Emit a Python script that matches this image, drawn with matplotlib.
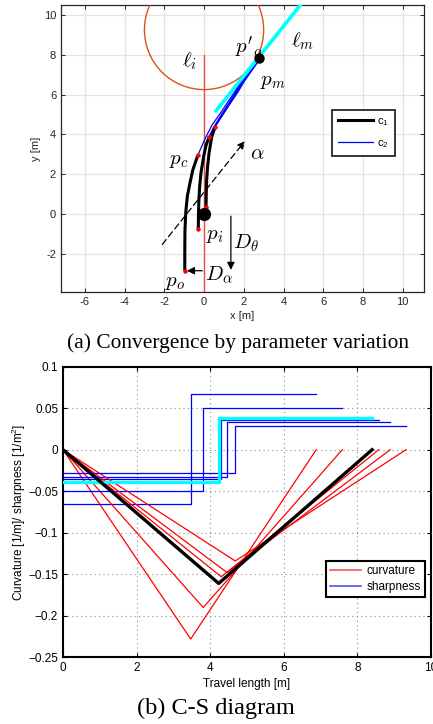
import numpy as np
import matplotlib.pyplot as plt
from matplotlib.patches import Circle, FancyArrowPatch

plt.rcParams['font.family'] = ['Liberation Sans', 'DejaVu Sans']
plt.rcParams['mathtext.fontset'] = 'cm'

# ---- (a) path geometry, metres ----
circle_center = (0.0, 9.25)
circle_radius = 3.0
line_i_x = [0.0, 0.0]
line_i_y = [-4.0, 8.0]
line_m_x = [0.6, 4.85]
line_m_y = [5.18, 10.5]
p_o_prime = (2.75, 7.82)
p_i = (0.0, 0.0)

# c1 segments (black)
c1_paths = [
    ([-0.97, -0.97, -0.96, -0.92, -0.84, -0.72, -0.57, -0.31],
     [-2.85, -1.8, -0.8, 0.1, 0.9, 1.5, 2.2, 2.96]),
    ([-0.29, -0.28, -0.26, -0.22, -0.15, -0.02, 0.1, 0.26],
     [-0.77, 0.0, 0.7, 1.4, 2.1, 2.9, 3.45, 3.88]),
    ([0.1, 0.11, 0.13, 0.18, 0.25, 0.38, 0.56],
     [0.37, 1.0, 1.7, 2.4, 3.05, 3.85, 4.39]),
]

# c2 segments (blue)
c2_paths = [
    ([-0.31, 0.06, 0.4, 0.82, 1.15, 1.49, 2.0, 2.75],
     [2.96, 3.8, 4.47, 5.06, 5.56, 6.06, 6.86, 7.78]),
    ([0.12, 0.45, 0.85, 1.2, 1.5, 2.0, 2.75],
     [3.6, 4.3, 4.95, 5.5, 5.98, 6.82, 7.76]),
    ([0.26, 0.55, 0.9, 1.25, 1.55, 2.0, 2.75],
     [3.88, 4.42, 4.97, 5.5, 5.97, 6.78, 7.74]),
    ([0.42, 0.7, 1.0, 1.3, 1.6, 2.0, 2.75],
     [4.15, 4.62, 5.08, 5.55, 6.02, 6.72, 7.72]),
    ([0.56, 0.85, 1.15, 1.45, 1.7, 2.05, 2.75],
     [4.39, 4.85, 5.3, 5.75, 6.12, 6.7, 7.7]),
]

end_dots_x = [-0.31, -0.97, 0.26, -0.29, 0.56, 0.1]
end_dots_y = [2.96, -2.85, 3.88, -0.77, 4.39, 0.37]

# ---- (b) curvature / sharpness profiles ----
s_peak = [3.47, 3.81, 4.23, 4.30, 4.46, 4.68]
k_peak = [-0.228, -0.190, -0.161, -0.153, -0.148, -0.134]
s_end = [6.88, 7.59, 8.40, 8.58, 8.89, 9.32]
sharp_in = [-0.0659, -0.0502, -0.0386, -0.0357, -0.0333, -0.0285]
sharp_out = [0.0667, 0.0502, 0.0382, 0.0357, 0.0333, 0.0289]
best = 2

W, H = 433, 724
fig = plt.figure(figsize=(W / 100, H / 100), dpi=100)

# ── (a) Path plot ─────────────────────────────────────────
ax1 = fig.add_axes([61 / W, 1 - 292 / H, 363 / W, 287 / H])
ax1.set_xlim(-7.2, 11.07)
ax1.set_ylim(-3.92, 10.5)

ax1.add_patch(Circle(circle_center, circle_radius, fill=False,
                     ec='#D95319', lw=1.0, zorder=3))
ax1.plot(line_i_x, line_i_y, color='#F04848', lw=1.0, zorder=3)

for xs, ys in c2_paths:
    ax1.plot(xs, ys, color='#0000FF', lw=0.9, zorder=4)
for xs, ys in c1_paths:
    ax1.plot(xs, ys, color='black', lw=2.2, zorder=5,
             solid_capstyle='butt')
ax1.plot(line_m_x, line_m_y, color='#00FFFF', lw=2.6, zorder=6)
ax1.plot(end_dots_x, end_dots_y, 'o', color='red', ms=2.2, zorder=7)
ax1.plot(*p_o_prime, 'o', color='black', ms=6.5, zorder=8)
ax1.plot(*p_i, 'o', color='black', ms=8.5, zorder=8)

# legend handles
ax1.plot([], [], color='black', lw=2.2, label=r'$\mathregular{c_1}$')
ax1.plot([], [], color='#0000FF', lw=0.9, label=r'$\mathregular{c_2}$')
leg1 = ax1.legend(loc='upper left', bbox_to_anchor=(0.746, 0.634),
                  borderaxespad=0, fontsize=8, handlelength=3.2,
                  handletextpad=0.3, borderpad=0.55, labelspacing=0.9,
                  fancybox=False, framealpha=1)
leg1.get_frame().set_edgecolor('#262626')
leg1.get_frame().set_linewidth(1.3)

# arrows
ax1.add_patch(FancyArrowPatch((-2.19, -1.64), (2.14, 3.77),
                              arrowstyle='-|>', mutation_scale=11,
                              color='black', lw=0.9, ls=(0, (5, 3)),
                              zorder=6))
ax1.add_patch(FancyArrowPatch((1.35, 0.03), (1.35, -2.95),
                              arrowstyle='-|>', mutation_scale=11,
                              color='black', lw=0.9, zorder=6))
ax1.add_patch(FancyArrowPatch((0.05, -2.85), (-1.0, -2.85),
                              arrowstyle='-|>', mutation_scale=11,
                              color='black', lw=0.9, zorder=6))

labels = [
    (r'$\ell_i$', -0.71, 7.65), (r'$\ell_m$', 4.95, 8.66),
    (r"$p'_o$", 2.23, 8.4), (r'$p_m$', 3.45, 6.65),
    (r'$\alpha$', 2.7, 3.05), (r'$p_c$', -1.3, 2.71),
    (r'$p_i$', 0.55, -1.06), (r'$D_\theta$', 2.12, -1.45),
    (r'$D_\alpha$', 0.75, -3.05), (r'$p_o$', -1.47, -3.45),
]
for txt, x, y in labels:
    ax1.text(x, y, txt, fontsize=15, ha='center', va='center', zorder=9)

ax1.set_xticks(np.arange(-6, 11, 2))
ax1.set_xticklabels([str(v) for v in range(-6, 11, 2)])
ax1.set_yticks(np.arange(-2, 11, 2))
ax1.set_yticklabels([str(v) for v in range(-2, 11, 2)])
ax1.grid(True, color='#E3E3E3', lw=0.9)
ax1.set_axisbelow(True)
ax1.tick_params(direction='in', top=True, right=True, length=3,
                labelsize=8, colors='#262626', width=0.7)
for sp in ax1.spines.values():
    sp.set_color('#262626')
    sp.set_linewidth(0.9)
ax1.set_xlabel('x [m]', fontsize=8, color='#262626', labelpad=3)
ax1.set_ylabel('y [m]', fontsize=8, color='#262626', labelpad=2)

fig.text(238.5 / W, 1 - 343 / H, '(a) Convergence by parameter variation',
         ha='center', va='center', family='Liberation Serif', fontsize=15.4)

# ── (b) C-S diagram ───────────────────────────────────────
ax2 = fig.add_axes([63 / W, 1 - 657.3 / H, 368 / W, 290.6 / H])
ax2.set_xlim(0, 10)
ax2.set_ylim(-0.25, 0.1)

for i in range(len(s_peak)):
    ax2.plot([0, s_peak[i], s_end[i]], [0, k_peak[i], 0],
             color='#FF0000', lw=0.9, zorder=3)
    ax2.plot([0, s_peak[i], s_peak[i], s_end[i]],
             [sharp_in[i], sharp_in[i], sharp_out[i], sharp_out[i]],
             color='#0000FF', lw=0.9, zorder=3)

ax2.plot([0, s_peak[best], s_end[best]], [0, k_peak[best], 0],
         color='black', lw=2.4, zorder=5)
ax2.plot([0, s_peak[best], s_peak[best], s_end[best]],
         [sharp_in[best], sharp_in[best], sharp_out[best], sharp_out[best]],
         color='#00FFFF', lw=2.4, zorder=4)

ax2.plot([], [], color='#FF5050', lw=1.2, label='curvature')
ax2.plot([], [], color='#5050FF', lw=1.2, label='sharpness')
leg2 = ax2.legend(loc='upper left', bbox_to_anchor=(0.714, 0.331),
                  borderaxespad=0, fontsize=8.5, handlelength=2.6,
                  handletextpad=0.5, borderpad=0.35, labelspacing=0.3,
                  fancybox=False, framealpha=1)
leg2.get_frame().set_edgecolor('black')
leg2.get_frame().set_linewidth(1.5)

yt = [0.1, 0.05, 0, -0.05, -0.1, -0.15, -0.2, -0.25]
ax2.set_yticks(yt)
ax2.set_yticklabels(['0.1', '0.05', '0', '\u22120.05', '\u22120.1',
                     '\u22120.15', '\u22120.2', '\u22120.25'])
ax2.set_xticks(range(0, 11, 2))
ax2.set_xticklabels([str(v) for v in range(0, 11, 2)])
ax2.grid(True, color='#8C8C8C', lw=0.8, ls=(0, (1, 3)))
ax2.set_axisbelow(True)
ax2.tick_params(direction='in', top=True, right=True, length=3,
                labelsize=8.5, width=0.8)
for sp in ax2.spines.values():
    sp.set_linewidth(1.5)
ax2.set_xlabel('Travel length [m]', fontsize=8.5, labelpad=3)
ax2.set_ylabel(r'Curvature [1/m]/ sharpness [1/m$\mathregular{^2}$]',
               fontsize=8.5, labelpad=0)

fig.text(216 / W, 1 - 708 / H, '(b) C-S diagram', ha='center', va='center',
         family='Liberation Serif', fontsize=17.5)

fig.savefig('out.png', dpi=100)
